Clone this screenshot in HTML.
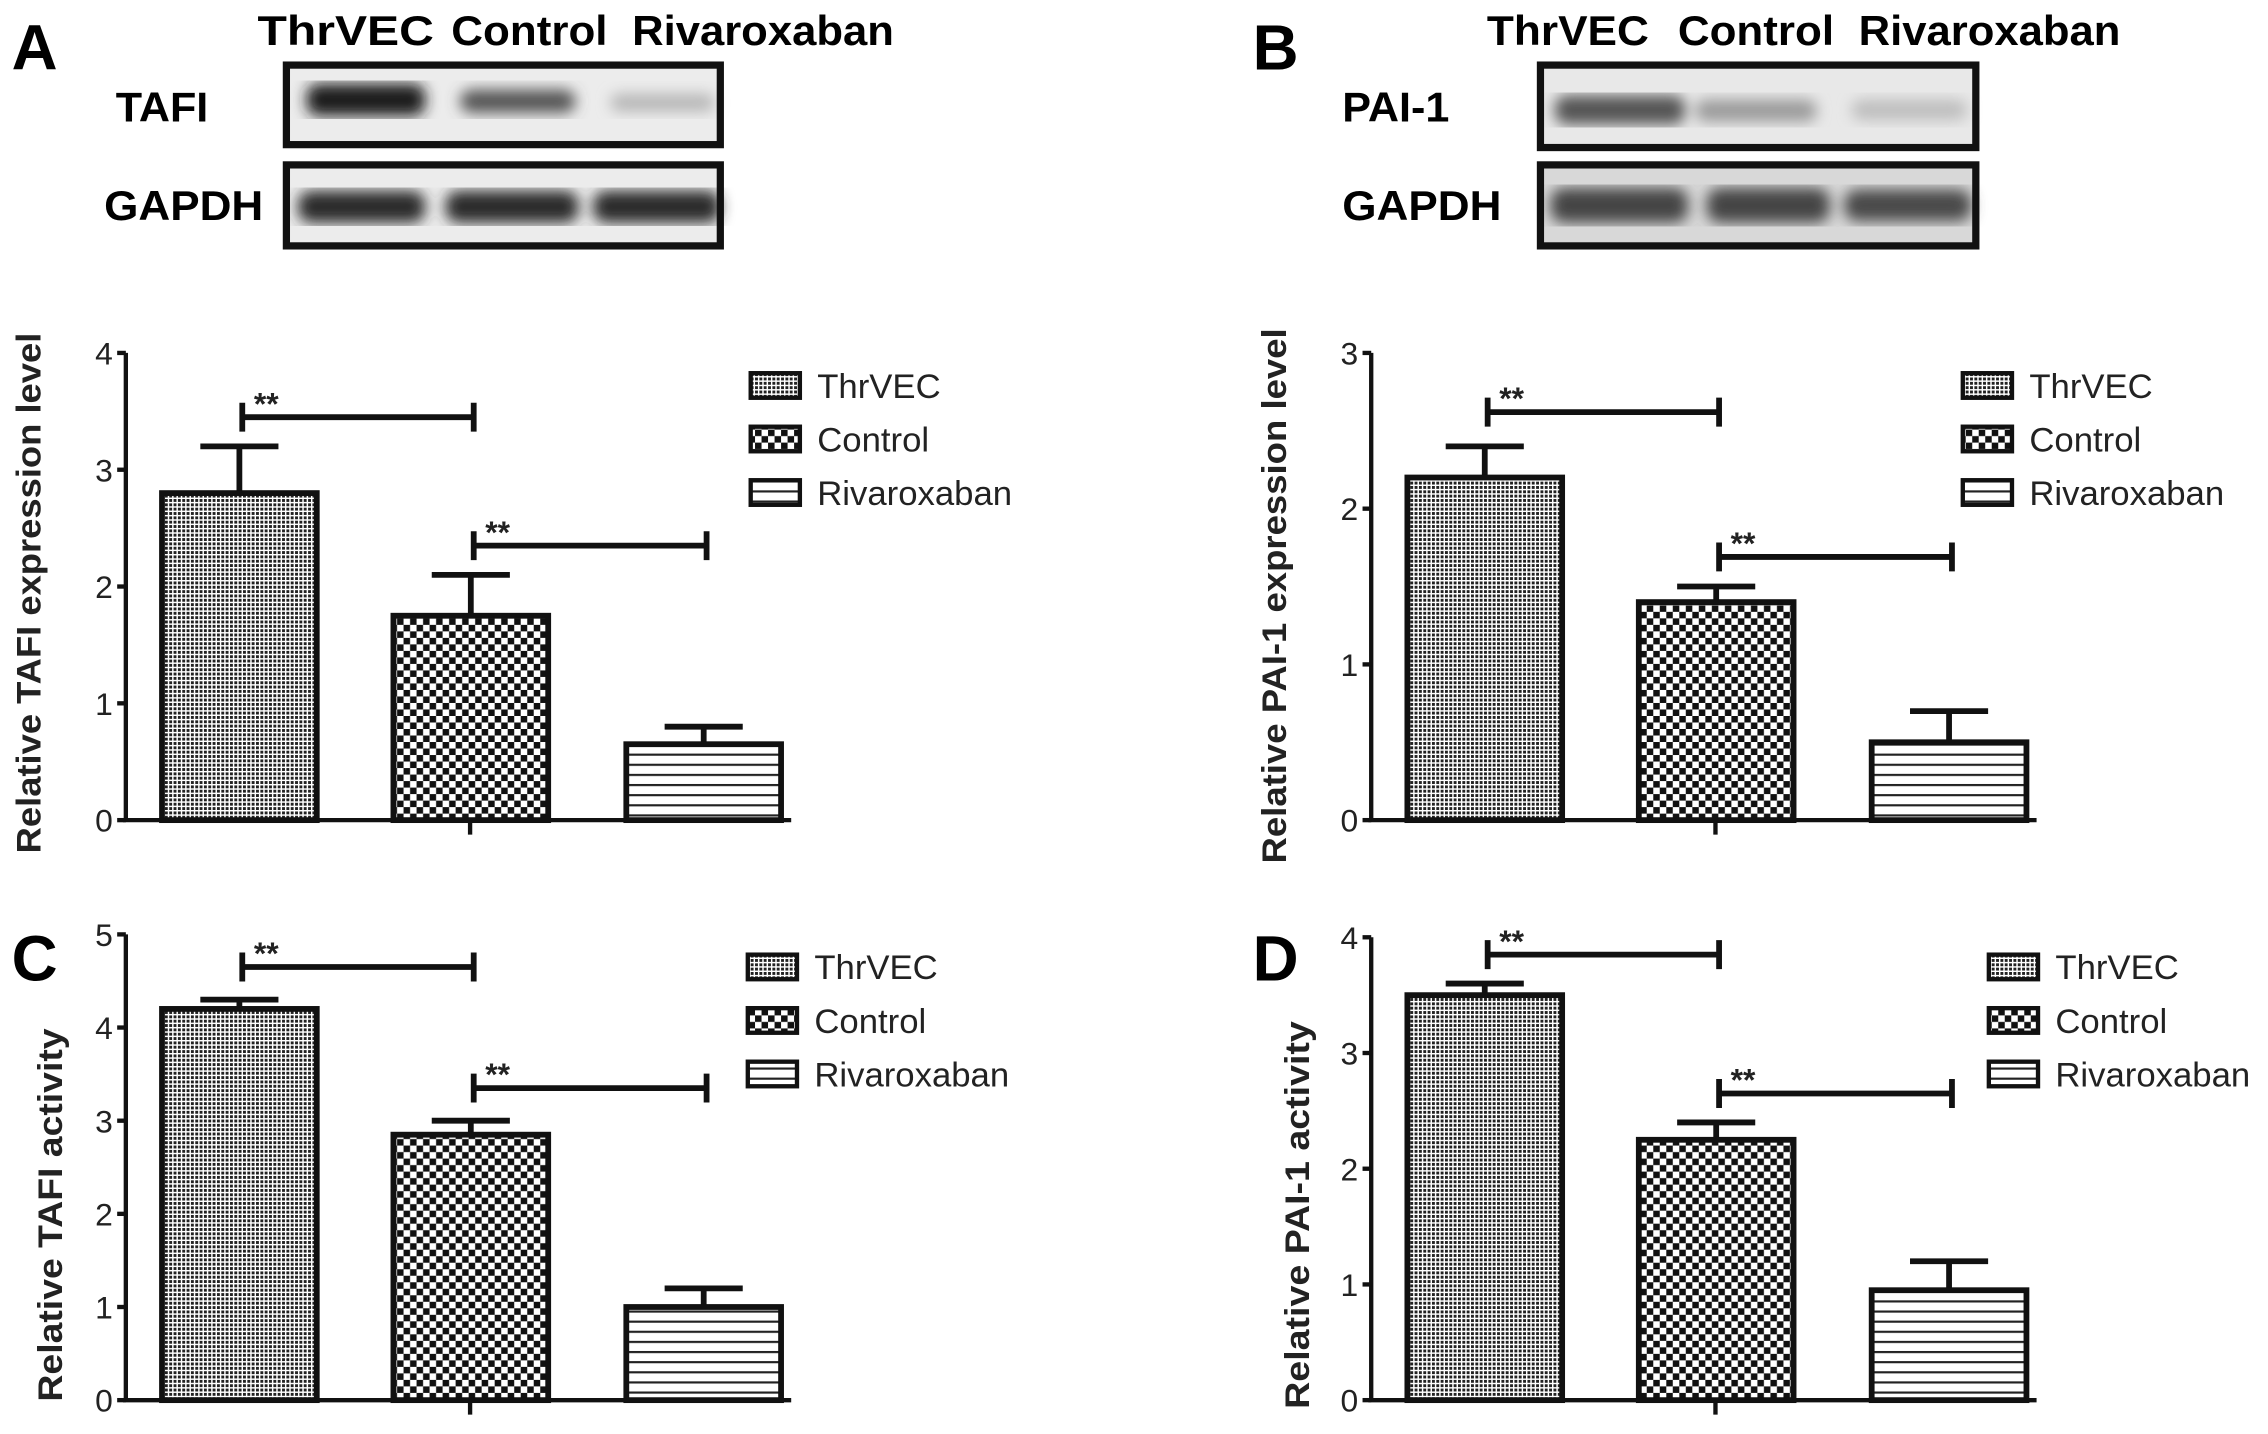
<!DOCTYPE html>
<html><head><meta charset="utf-8"><style>html,body{margin:0;padding:0;background:#fff}svg{display:block}</style></head>
<body>
<svg id="fig" width="2268" height="1434" viewBox="0 0 1568 991.4" xmlns="http://www.w3.org/2000/svg" font-family="'Liberation Sans', sans-serif">
<defs>
<pattern id="pThr" width="3" height="3" patternUnits="userSpaceOnUse"><rect width="3" height="3" fill="#fff"/><rect width="2" height="2" fill="#222"/></pattern>
<pattern id="pCtl" width="9" height="9" patternUnits="userSpaceOnUse"><rect width="9" height="9" fill="#fff"/><rect width="4.5" height="4.5" fill="#111"/><rect x="4.5" y="4.5" width="4.5" height="4.5" fill="#111"/></pattern>
<pattern id="pRiv" width="7" height="7" patternUnits="userSpaceOnUse"><rect width="7" height="7" fill="#fff"/><rect y="3" width="7" height="1.5" fill="#222"/></pattern>
<filter id="blur"><feGaussianBlur stdDeviation="5"/></filter>
</defs>
<g id="blots">
 <text x="8" y="48" font-size="44" font-weight="bold">A</text>
 <text x="866" y="48" font-size="44" font-weight="bold">B</text>
 <g font-size="29" font-weight="bold">
  <text x="178" y="31" textLength="122" lengthAdjust="spacingAndGlyphs">ThrVEC</text>
  <text x="312" y="31" textLength="108" lengthAdjust="spacingAndGlyphs">Control</text>
  <text x="437" y="31" textLength="181" lengthAdjust="spacingAndGlyphs">Rivaroxaban</text>
  <text x="1028" y="31" textLength="112" lengthAdjust="spacingAndGlyphs">ThrVEC</text>
  <text x="1160" y="31" textLength="108" lengthAdjust="spacingAndGlyphs">Control</text>
  <text x="1285" y="31" textLength="181" lengthAdjust="spacingAndGlyphs">Rivaroxaban</text>
  <text x="80" y="84" textLength="64" lengthAdjust="spacingAndGlyphs">TAFI</text>
  <text x="72" y="152" textLength="110" lengthAdjust="spacingAndGlyphs">GAPDH</text>
  <text x="928" y="84" textLength="74" lengthAdjust="spacingAndGlyphs">PAI-1</text>
  <text x="928" y="152" textLength="110" lengthAdjust="spacingAndGlyphs">GAPDH</text>
 </g>
 <g>
  <rect x="198" y="45" width="300" height="55" fill="#ececec"/>
  <g filter="url(#blur)"><rect x="212" y="58" width="82" height="22" rx="8" fill="#1e1e1e"/><rect x="318" y="62" width="80" height="16" rx="8" fill="#555"/><rect x="422" y="65" width="72" height="12" rx="6" fill="#b5b5b5"/></g>
  <rect x="198" y="45" width="300" height="55" fill="none" stroke="#111" stroke-width="5"/>
 </g>
 <g>
  <rect x="198" y="114" width="300" height="56" fill="#ececec"/>
  <g filter="url(#blur)"><rect x="206" y="132" width="88" height="22" rx="9" fill="#2a2a2a"/><rect x="308" y="132" width="92" height="22" rx="9" fill="#2a2a2a"/><rect x="410" y="132" width="88" height="22" rx="9" fill="#2a2a2a"/></g>
  <rect x="198" y="114" width="300" height="56" fill="none" stroke="#111" stroke-width="5"/>
 </g>
 <g>
  <rect x="1065" y="45" width="301" height="57" fill="#e8e8e8"/>
  <g filter="url(#blur)"><rect x="1075" y="66" width="90" height="20" rx="8" fill="#555"/><rect x="1172" y="69" width="84" height="15" rx="7" fill="#9a9a9a"/><rect x="1280" y="69" width="80" height="14" rx="7" fill="#bdbdbd"/></g>
  <rect x="1065" y="45" width="301" height="57" fill="none" stroke="#111" stroke-width="5"/>
 </g>
 <g>
  <rect x="1065" y="114" width="301" height="56" fill="#d8d8d8"/>
  <g filter="url(#blur)"><rect x="1072" y="130" width="95" height="24" rx="9" fill="#444"/><rect x="1180" y="130" width="85" height="24" rx="9" fill="#444"/><rect x="1275" y="131" width="88" height="22" rx="9" fill="#4a4a4a"/></g>
  <rect x="1065" y="114" width="301" height="56" fill="none" stroke="#111" stroke-width="5"/>
 </g>
</g>
<text x="8" y="678" font-size="44" font-weight="bold">C</text>
<text x="866" y="678" font-size="44" font-weight="bold">D</text>
<g id="charts"></g>
</svg>
<script>
const groups = ["ThrVEC","Control","Rivaroxaban"];
const valA = [2.8, 1.75, 0.65];
const errA = [0.4, 0.35, 0.15];
const ticksA = [0,1,2,3,4];
const valB = [2.2, 1.4, 0.5];
const errB = [0.2, 0.1, 0.2];
const ticksB = [0,1,2,3];
const valC = [4.2, 2.85, 1.0];
const errC = [0.1, 0.15, 0.2];
const ticksC = [0,1,2,3,4,5];
const valD = [3.5, 2.25, 0.95];
const errD = [0.1, 0.15, 0.25];
const ticksD = [0,1,2,3,4];
const sigA = [3.45, 2.35];
const sigB = [2.62, 1.69];
const sigC = [4.65, 3.35];
const sigD = [3.85, 2.65];
const fills = ["url(#pThr)","url(#pCtl)","url(#pRiv)"];
const NS = "http://www.w3.org/2000/svg";
function mk(parent, tag, attrs, txt){const e=document.createElementNS(NS,tag);for(const k in attrs)e.setAttribute(k,attrs[k]);if(txt!==undefined)e.textContent=txt;parent.appendChild(e);return e;}
function chart(cfg){
  const root=document.getElementById('charts');
  const g=mk(root,'g',{});
  
  
  const y=v=>cfg.y0-(cfg.y0-cfg.yTop)*v/cfg.max;
  const x0=cfg.ax;
  const barX=[x0+25,x0+185,x0+346], bw=107;
  cfg.vals.forEach((v,i)=>{
    const top=y(v+cfg.errs[i]);
    const cx=barX[i]+bw/2;
    const eb=mk(g,'path',{d:`M${cx},${y(v)} V${top} M${cx-27},${top} H${cx+27}`,stroke:'#111','stroke-width':4,fill:'none'});
    
    
    const r=mk(g,'rect',{x:barX[i],y:y(v),width:bw,height:cfg.y0-y(v),fill:fills[i],stroke:'#111','stroke-width':4});
    
    
  });
  const ya=mk(g,'path',{d:`M${x0},${y(cfg.max)} V${cfg.y0}`,stroke:'#111','stroke-width':3,fill:'none'});
  
  
  const xa=mk(g,'path',{d:`M${x0-2},${cfg.y0} H${x0+460} M${x0+238},${cfg.y0} V${cfg.y0+10}`,stroke:'#111','stroke-width':3,fill:'none'});
  
  
  cfg.ticks.forEach(t=>{
    const tk=mk(g,'path',{d:`M${x0-6},${y(t)} H${x0}`,stroke:'#111','stroke-width':3});
    
    
    const tl=mk(g,'text',{x:x0-9,y:y(t)+8,'font-size':22,'text-anchor':'end',fill:'#222'},String(t));
    
    
  });
  const yl=mk(g,'text',{transform:`translate(${cfg.labX},${cfg.labY}) rotate(-90)`,'font-size':24,'font-weight':'bold','text-anchor':'middle',fill:'#222',textLength:cfg.labLen,lengthAdjust:'spacingAndGlyphs'},cfg.ylabel);
  
  
  cfg.sig.forEach((s,i)=>{
    const xa1=barX[i]+bw/2+2, xb=barX[i+1]+bw/2+2, yy=y(s);
    const br=mk(g,'path',{d:`M${xa1},${yy-10} V${yy+10} M${xa1},${yy} H${xb} M${xb},${yy-10} V${yy+10}`,stroke:'#111','stroke-width':4,fill:'none'});
    
    
    const st=mk(g,'text',{x:xa1+8,y:yy-2,'font-size':22,'font-weight':'bold',fill:'#222'},'**');
    
    
  });
  groups.forEach((n,i)=>{
    const ly=cfg.legY+i*37;
    const lb=mk(g,'rect',{x:cfg.legX,y:ly,width:34,height:17,fill:fills[i],stroke:'#111','stroke-width':3});
    
    
    const lt=mk(g,'text',{x:cfg.legX+46,y:ly+17,'font-size':24,fill:'#222'},n);
    
    
  });
}
chart({name:'chart-tafi-expression',ax:87,y0:567,yTop:244,max:4,vals:valA,errs:errA,ticks:ticksA,sig:sigA,ylabel:'Relative TAFI expression level',labLen:360,labX:28,labY:410,legX:519,legY:258});
chart({name:'chart-pai1-expression',ax:948,y0:567,yTop:244,max:3,vals:valB,errs:errB,ticks:ticksB,sig:sigB,ylabel:'Relative PAI-1 expression level',labLen:370,labX:889,labY:412,legX:1357,legY:258});
chart({name:'chart-tafi-activity',ax:87,y0:968,yTop:646,max:5,vals:valC,errs:errC,ticks:ticksC,sig:sigC,ylabel:'Relative TAFI activity',labLen:258,labX:43,labY:840,legX:517,legY:660});
chart({name:'chart-pai1-activity',ax:948,y0:968,yTop:648,max:4,vals:valD,errs:errD,ticks:ticksD,sig:sigD,ylabel:'Relative PAI-1 activity',labLen:268,labX:905,labY:840,legX:1375,legY:660});
</script>
</body></html>
